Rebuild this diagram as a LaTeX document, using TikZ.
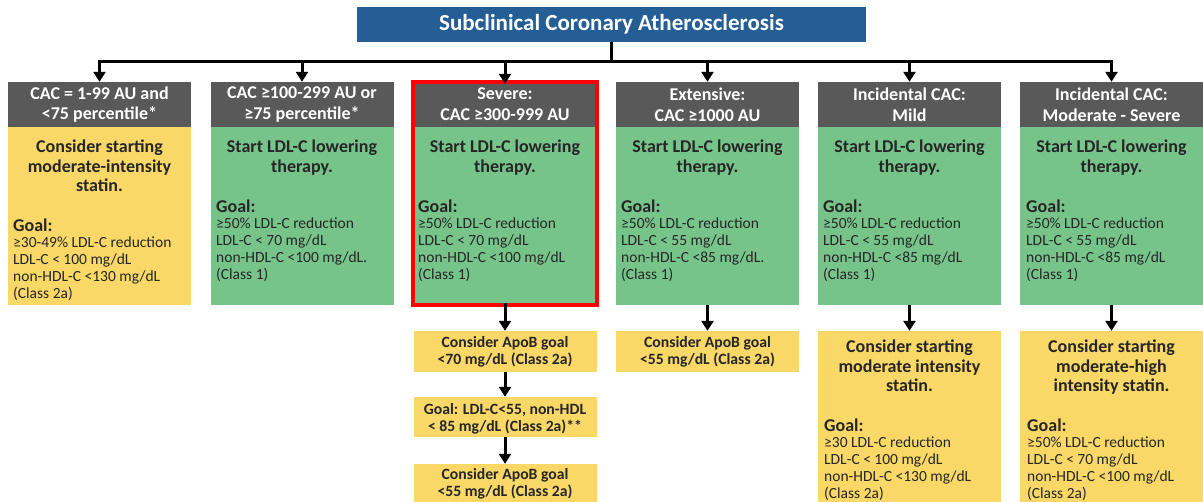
\documentclass[tikz,border=0pt]{standalone}
\usepackage{fontspec}
\setmainfont{Carlito}
\usetikzlibrary{arrows.meta}
\definecolor{ttlblue}{RGB}{37,94,149}
\definecolor{hdrgray}{RGB}{89,89,89}
\definecolor{bgreen}{RGB}{119,196,139}
\definecolor{byellow}{RGB}{249,216,104}
\definecolor{txtdark}{RGB}{38,38,38}
\definecolor{frame}{RGB}{255,0,0}
\begin{document}
\begin{tikzpicture}[x=1pt,y=-1pt,
  titlebox/.style={fill=ttlblue,text=white,font=\bfseries\fontsize{23}{26}\selectfont,minimum width=509pt,minimum height=35pt,inner sep=0pt},
  hdr/.style={fill=hdrgray,text=white,font=\bfseries\fontsize{18}{20.7}\selectfont,align=center,minimum width=183pt,minimum height=45pt,inner sep=0pt},
  gbox/.style={fill=bgreen,minimum width=183pt,inner sep=0pt},
  ybox/.style={fill=byellow,minimum width=183pt,inner sep=0pt},
  bhead/.style={text=txtdark,font=\bfseries\fontsize{18}{19.5}\selectfont,align=center,inner sep=0pt,anchor=north},
  glabel/.style={text=txtdark,font=\bfseries\fontsize{18}{19}\selectfont,inner sep=0pt,anchor=north west},
  glines/.style={text=txtdark,font=\fontsize{15.5}{17}\selectfont,align=left,inner sep=0pt,anchor=north west},
  smalltxt/.style={text=txtdark,font=\bfseries\fontsize{15.7}{16.5}\selectfont,align=center,inner sep=0pt},
  conn/.style={line width=3pt},
  arr/.style={line width=3pt,-{Triangle[width=12pt,length=10pt]}},
  redframe/.style={draw=frame,line width=4pt}
]
\useasboundingbox (0,0) rectangle (1203,502);

% title
\node[titlebox] (title) at (611.5,24.5) {Subclinical Coronary Atherosclerosis};
\coordinate (bus) at (0,62);

% headers
\node[hdr] (h1) at (99.5,104.5) {CAC = 1-99 AU and\\<75 percentile*};
\node[hdr] (h2) at (302,104.5) {CAC ≥100-299 AU or\\≥75 percentile*};
\node[hdr] (h3) at (505,104.5) {Severe:\\CAC ≥300-999 AU};
\node[hdr] (h4) at (707.5,104.5) {Extensive:\\CAC ≥1000 AU};
\node[hdr] (h5) at (909.5,104.5) {Incidental CAC:\\Mild};
\node[hdr] (h6) at (1111.5,104.5) {Incidental CAC:\\Moderate - Severe};

% bodies
\node[ybox,minimum height=178pt] (b1) at (99.5,216) {};
\node[gbox,minimum height=178pt] (b2) at (302,216) {};
\node[gbox,minimum height=178pt] (b3) at (505,216) {};
\node[gbox,minimum height=178pt] (b4) at (707.5,216) {};
\node[gbox,minimum height=178pt] (b5) at (909.5,216) {};
\node[gbox,minimum height=178pt] (b6) at (1111.5,216) {};
\draw[redframe] (h3.north west) rectangle (b3.south east);

% connectors top
\draw[conn] (title.south) -- (title.south |- bus);
\draw[conn] ([xshift=-1.5pt]h1.north |- bus) -- ([xshift=1.5pt]h6.north |- bus);
\foreach \h in {h1,h2,h4,h5,h6}{
  \draw[arr] (\h.north |- bus) -- (\h.north);
}
\draw[arr] (h3.north |- bus) -- ([yshift=-2pt]h3.north);

% body texts
\node[bhead] (t1) at (99.5,140) {Consider starting\\moderate-intensity\\statin.};
\node[glabel] (g1) at (13,219) {Goal:};
\node[glines] (l1) at (13,237) {≥30-49\% LDL-C reduction\\LDL-C < 100 mg/dL\\non-HDL-C <130 mg/dL\\(Class 2a)};

\node[bhead] (t2) at (302,140) {Start LDL-C lowering\\therapy.};
\node[glabel] (g2) at (216,199.5) {Goal:};
\node[glines] (l2) at (216,217.5) {≥50\% LDL-C reduction\\LDL-C < 70 mg/dL\\non-HDL-C <100 mg/dL.\\(Class 1)};

\node[bhead] (t3) at (505,140) {Start LDL-C lowering\\therapy.};
\node[glabel] (g3) at (418,199.5) {Goal:};
\node[glines] (l3) at (418,217.5) {≥50\% LDL-C reduction\\LDL-C < 70 mg/dL\\non-HDL-C <100 mg/dL\\(Class 1)};

\node[bhead] (t4) at (707.5,140) {Start LDL-C lowering\\therapy.};
\node[glabel] (g4) at (621,199.5) {Goal:};
\node[glines] (l4) at (621,217.5) {≥50\% LDL-C reduction\\LDL-C < 55 mg/dL\\non-HDL-C <85 mg/dL.\\(Class 1)};

\node[bhead] (t5) at (909.5,140) {Start LDL-C lowering\\therapy.};
\node[glabel] (g5) at (823,199.5) {Goal:};
\node[glines] (l5) at (823,217.5) {≥50\% LDL-C reduction\\LDL-C < 55 mg/dL\\non-HDL-C <85 mg/dL\\(Class 1)};

\node[bhead] (t6) at (1111.5,140) {Start LDL-C lowering\\therapy.};
\node[glabel] (g6) at (1026,199.5) {Goal:};
\node[glines] (l6) at (1026,217.5) {≥50\% LDL-C reduction\\LDL-C < 55 mg/dL\\non-HDL-C <85 mg/dL\\(Class 1)};

% lower boxes column 3
\node[ybox,minimum height=41pt] (s3a) at (505,351.5) {};
\node[smalltxt] (s3at) at (505,352) {Consider ApoB goal\\<70 mg/dL (Class 2a)};
\node[ybox,minimum height=40pt] (s3b) at (505,417) {};
\node[smalltxt] (s3bt) at (505,419) {Goal: LDL-C<55, non-HDL\\< 85 mg/dL (Class 2a)**};
\node[ybox,minimum height=46pt] (s3c) at (505,487) {};
\node[smalltxt] (s3ct) at (505,484) {Consider ApoB goal\\<55 mg/dL (Class 2a)};

\draw[arr] (b3.south) ++(0,2pt) coordinate (b3s) -- (s3a.north);
\draw[arr] (s3a.south) -- (s3b.north);
\draw[arr] (s3b.south) -- (s3c.north);

% column 4
\node[ybox,minimum height=41pt] (s4a) at (707.5,351.5) {};
\node[smalltxt] (s4at) at (707.5,352) {Consider ApoB goal\\<55 mg/dL (Class 2a)};
\draw[arr] (b4.south) -- (s4a.north);

% column 5
\node[ybox,minimum height=179pt] (s5) at (909.5,420.5) {};
\node[bhead] (s5t) at (909.5,340) {Consider starting\\moderate intensity\\statin.};
\node[glabel] (s5g) at (824,419) {Goal:};
\node[glines] (s5l) at (824,437) {≥30 LDL-C reduction\\LDL-C < 100 mg/dL\\non-HDL-C <130 mg/dL\\(Class 2a)};
\draw[arr] (b5.south) -- (s5.north);

% column 6
\node[ybox,minimum height=179pt] (s6) at (1111.5,420.5) {};
\node[bhead] (s6t) at (1111.5,340) {Consider starting\\moderate-high\\intensity statin.};
\node[glabel] (s6g) at (1027,419) {Goal:};
\node[glines] (s6l) at (1027,437) {≥50\% LDL-C reduction\\LDL-C < 70 mg/dL\\non-HDL-C <100 mg/dL\\(Class 2a)};
\draw[arr] (b6.south) -- (s6.north);
\end{tikzpicture}
\end{document}
